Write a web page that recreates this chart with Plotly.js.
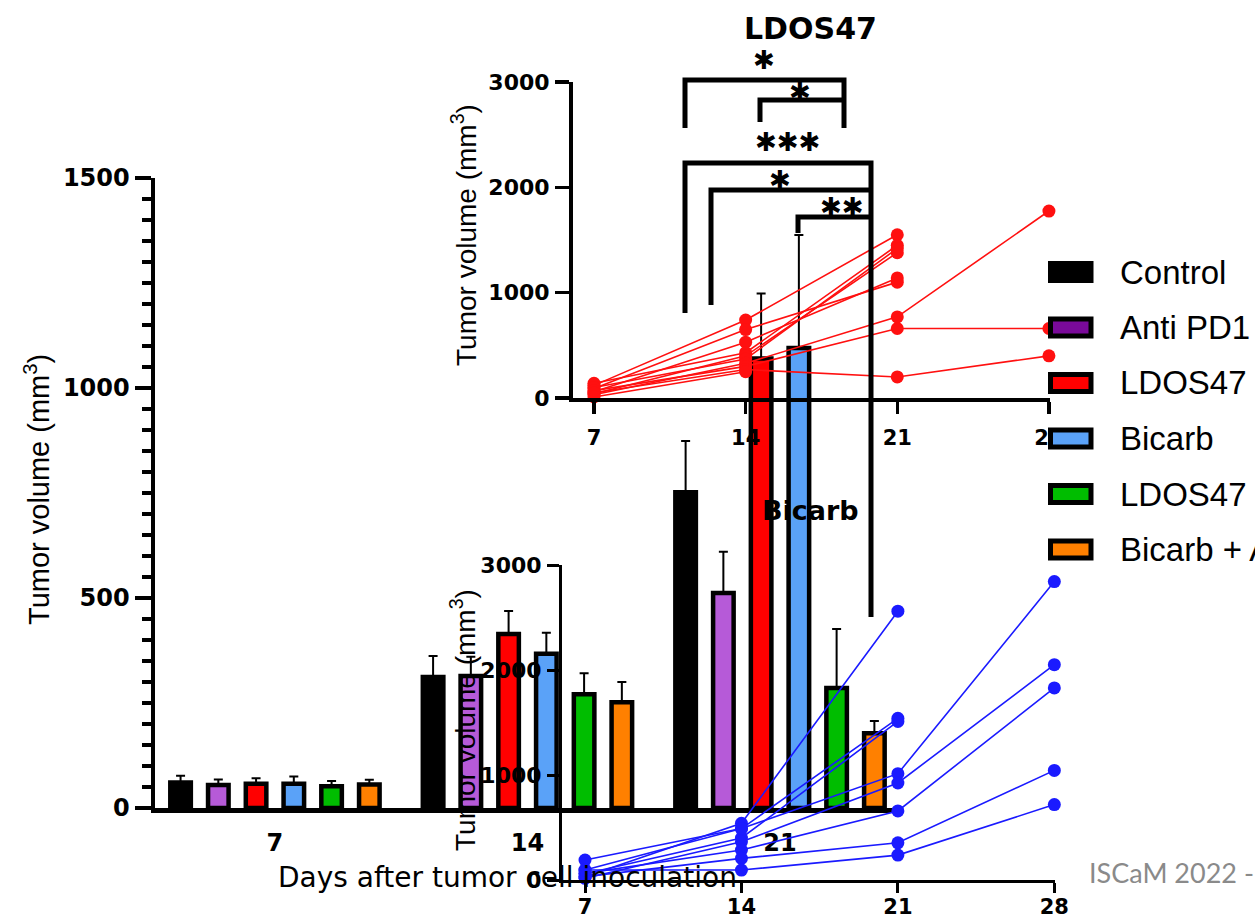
<!DOCTYPE html>
<html>
<head>
<meta charset="utf-8">
<script src="https://cdn.plot.ly/plotly-3.0.1.min.js"></script>
<style>
  html, body { margin: 0; padding: 0; background: #ffffff; }
  #chart { width: 1255px; height: 922px; }
</style>
</head>
<body>
<div id="chart"></div>
<script>
// ---------------- DATA ----------------
const dayLabels = ['7', '14', '21'];
const groupNames = ['Control', 'Anti PD1', 'LDOS47', 'Bicarb', 'LDOS47 + Anti PD1', 'Bicarb + Anti PD1'];

const meanControl = [61, 312, 752];
const meanAntiPD1 = [55, 314, 512];
const meanLDOS47 = [58, 414, 1070];
const meanBicarb = [58, 367, 1095];
const meanLDOS47PD1 = [52, 271, 286];
const meanBicarbPD1 = [56, 252, 178];

const semControl = [16, 50, 122];
const semAntiPD1 = [13, 46, 98];
const semLDOS47 = [13, 55, 155];
const semBicarb = [17, 50, 269];
const semLDOS47PD1 = [12, 50, 140];
const semBicarbPD1 = [11, 48, 29];

const insetDays = [7, 14, 21, 28];
// individual LDOS47 mice (null = no measurement)
const ldosMouse1 = [120, 740, 1550, null];
const ldosMouse2 = [90, 650, 1100, null];
const ldosMouse3 = [60, 530, 1140, null];
const ldosMouse4 = [140, 430, 1450, null];
const ldosMouse5 = [40, 400, 1380, null];
const ldosMouse6 = [100, 370, 1420, null];
const ldosMouse7 = [30, 330, 770, 1775];
const ldosMouse8 = [70, 300, 660, 660];
const ldosMouse9 = [50, 270, 200, 400];
const ldosMouse10 = [10, 250, null, null];
// individual Bicarb mice
const bicMouse1 = [30, 540, 2560, null];
const bicMouse2 = [95, 490, 1540, null];
const bicMouse3 = [60, 400, 1510, null];
const bicMouse4 = [190, 490, 1013, 2842];
const bicMouse5 = [16, 364, 924, 2051];
const bicMouse6 = [63, 285, 658, 1829];
const bicMouse7 = [32, 206, 354, 1044];
const bicMouse8 = [95, 95, 237, 718];

const mainTickVals = [0, 500, 1000, 1500];
const insetTickVals = [0, 1000, 2000, 3000];

// ---------------- BUILD ----------------
const W = 1255, H = 922;
const px = v => v / W;
const py = v => 1 - v / H;

const means = [meanControl, meanAntiPD1, meanLDOS47, meanBicarb, meanLDOS47PD1, meanBicarbPD1];
const sems = [semControl, semAntiPD1, semLDOS47, semBicarb, semLDOS47PD1, semBicarbPD1];
const barColors = ['#000000', '#b65ad8', '#ff0000', '#5aa2f8', '#00bd00', '#ff8000'];
const legendColors = ['#000000', '#7a0a9a', '#ff0000', '#5aa2f8', '#00bd00', '#ff8000'];

const traces = [];
groupNames.forEach((name, i) => {
  traces.push({
    type: 'bar', name: name, x: dayLabels, y: means[i],
    xaxis: 'x', yaxis: 'y',
    marker: { color: barColors[i], line: { color: '#000000', width: 4.5 } },
    error_y: { type: 'data', array: sems[i], arrayminus: sems[i].map(() => 0), symmetric: false,
               color: '#000000', thickness: 2, width: 4.5 },
    cliponaxis: false, showlegend: false, hoverinfo: 'skip'
  });
});

function mouseTrace(vals, color, xa, ya) {
  const xs = [], ys = [];
  vals.forEach((v, k) => { if (v !== null) { xs.push(insetDays[k]); ys.push(v); } });
  return { type: 'scatter', mode: 'lines+markers', x: xs, y: ys, xaxis: xa, yaxis: ya,
           line: { color: color, width: 1.6 }, marker: { color: color, size: 13 },
           cliponaxis: false, showlegend: false, hoverinfo: 'skip' };
}
[ldosMouse1, ldosMouse2, ldosMouse3, ldosMouse4, ldosMouse5, ldosMouse6, ldosMouse7, ldosMouse8, ldosMouse9, ldosMouse10]
  .forEach(m => traces.push(mouseTrace(m, '#ff1010', 'x2', 'y2')));
[bicMouse1, bicMouse2, bicMouse3, bicMouse4, bicMouse5, bicMouse6, bicMouse7, bicMouse8]
  .forEach(m => traces.push(mouseTrace(m, '#1a1aff', 'x3', 'y3')));

const tickFontBig = { family: 'DejaVu Sans', size: 24, color: '#000', weight: 'bold' };
const tickFontXMain = { family: 'DejaVu Sans', size: 24, color: '#000', weight: 'bold' };
const tickFontInset = { family: 'DejaVu Sans', size: 22, color: '#000', weight: 'bold' };
const tickFontInsetX = { family: 'DejaVu Sans', size: 21, color: '#000', weight: 'bold' };

const shapes = [];
// significance brackets (pixel geometry)
const bracketLine = { color: '#000000', width: 5 };
function bracket(x0, x1, yTop, yL, yR) {
  shapes.push({ type: 'path', xref: 'paper', yref: 'paper', layer: 'above',
    path: `M ${px(x0)} ${py(yL)} L ${px(x0)} ${py(yTop)} L ${px(x1)} ${py(yTop)} L ${px(x1)} ${py(yR)}`,
    line: bracketLine });
}
bracket(685, 844, 80, 128, 128);
bracket(760, 844, 100, 122, 100);
bracket(685, 871, 163, 313, 617);
bracket(711, 871, 190, 305, 190);
bracket(798, 871, 217, 233, 217);

const annotations = [];
function star(text, x, y) {
  annotations.push({ xref: 'paper', yref: 'paper', x: px(x), y: py(y), text: text, showarrow: false,
    xanchor: 'center', yanchor: 'middle', font: { family: 'DejaVu Sans', size: 26, color: '#000', weight: 'bold' } });
}
star('✱', 764, 60);
star('✱', 800, 92);
star('✱✱✱', 788, 142);
star('✱', 780, 180);
star('✱✱', 842, 207);

// legend drawn manually
groupNames.forEach((name, i) => {
  const yc = 272 + i * 55.5;
  shapes.push({ type: 'rect', xref: 'paper', yref: 'paper', layer: 'above',
    x0: px(1050.5), x1: px(1091), y0: py(yc - 8.5), y1: py(yc + 8.5),
    fillcolor: legendColors[i], line: { color: '#000000', width: 5 } });
  annotations.push({ xref: 'paper', yref: 'paper', x: px(1118), y: py(yc), text: name, showarrow: false,
    xanchor: 'left', yanchor: 'middle', font: { family: 'Liberation Sans, Arial', size: 33, color: '#000' } });
});

// titles
annotations.push({ xref: 'paper', yref: 'paper', x: px(810), y: py(28), text: 'LDOS47', showarrow: false,
  xanchor: 'center', yanchor: 'middle', font: { family: 'DejaVu Sans', size: 30, color: '#000', weight: 'bold' } });
annotations.push({ xref: 'paper', yref: 'paper', x: px(810), y: py(510), text: 'Bicarb', showarrow: false,
  xanchor: 'center', yanchor: 'middle', font: { family: 'DejaVu Sans', size: 27, color: '#000', weight: 'bold' } });
const yTitleText = 'Tumor volume (mm<sup>3</sup>)';
annotations.push({ xref: 'paper', yref: 'paper', x: px(37), y: py(490), text: yTitleText, showarrow: false,
  textangle: -90, xanchor: 'center', yanchor: 'middle', font: { family: 'Liberation Sans, Arial', size: 29, color: '#000' } });
annotations.push({ xref: 'paper', yref: 'paper', x: px(464), y: py(235), text: yTitleText, showarrow: false,
  textangle: -90, xanchor: 'center', yanchor: 'middle', font: { family: 'Liberation Sans, Arial', size: 28, color: '#000' } });
annotations.push({ xref: 'paper', yref: 'paper', x: px(463), y: py(720), text: yTitleText, showarrow: false,
  textangle: -90, xanchor: 'center', yanchor: 'middle', font: { family: 'Liberation Sans, Arial', size: 28, color: '#000' } });
annotations.push({ xref: 'paper', yref: 'paper', x: px(276), y: py(877), text: 'Days after tumor cell inoculation', showarrow: false,
  xanchor: 'left', yanchor: 'middle', font: { family: 'DejaVu Sans', size: 28, color: '#000' } });
annotations.push({ xref: 'paper', yref: 'paper', x: px(1087), y: py(872), text: 'ISCaM 2022 - ', showarrow: false,
  xanchor: 'left', yanchor: 'middle', font: { family: 'Lato', size: 27, color: '#8a8a8a' } });

const layout = {
  width: W, height: H,
  margin: { l: 0, r: 0, t: 0, b: 0 },
  paper_bgcolor: '#ffffff', plot_bgcolor: 'rgba(0,0,0,0)',
  showlegend: false,
  barmode: 'group', bargap: 0.103, bargroupgap: 0.456,
  xaxis: {
    domain: [px(155), px(893)], anchor: 'y', type: 'category', range: [-0.475, 2.4475],
    showline: true, linewidth: 4.5, linecolor: '#000', ticks: '', showgrid: false, zeroline: false,
    tickfont: tickFontXMain, ticklabelstandoff: 10, fixedrange: true
  },
  yaxis: {
    domain: [py(808), py(178)], anchor: 'x', range: [0, 1500],
    tickvals: mainTickVals, showline: true, linewidth: 4.5, linecolor: '#000',
    ticks: 'outside', ticklen: 16, tickwidth: 4.5, tickcolor: '#000',
    minor: { dtick: 50, ticks: 'outside', ticklen: 9, tickwidth: 4, tickcolor: '#000' },
    showgrid: false, zeroline: false, tickfont: tickFontBig, ticklabelstandoff: 0
  },
  xaxis2: {
    domain: [px(573), px(1050)], anchor: 'y2', range: [6.03, 28.05],
    tickvals: insetDays, showline: true, linewidth: 4, linecolor: '#000',
    ticks: 'outside', ticklen: 12, tickwidth: 3.5, tickcolor: '#000',
    showgrid: false, zeroline: false, tickfont: tickFontInsetX, ticklabelstandoff: 6
  },
  yaxis2: {
    domain: [py(398), py(82)], anchor: 'x2', range: [0, 3000],
    tickvals: insetTickVals, showline: true, linewidth: 4, linecolor: '#000',
    ticks: 'outside', ticklen: 14, tickwidth: 3.5, tickcolor: '#000',
    showgrid: false, zeroline: false, tickfont: tickFontInset, ticklabelstandoff: 1
  },
  xaxis3: {
    domain: [px(562), px(1055)], anchor: 'y3', range: [5.97, 28.03],
    tickvals: insetDays, showline: true, linewidth: 3, linecolor: '#000',
    ticks: 'outside', ticklen: 10, tickwidth: 3, tickcolor: '#000',
    showgrid: false, zeroline: false, tickfont: tickFontInsetX, ticklabelstandoff: -4
  },
  yaxis3: {
    domain: [py(880), py(565)], anchor: 'x3', range: [0, 3000],
    tickvals: insetTickVals, showline: true, linewidth: 3, linecolor: '#000',
    ticks: 'outside', ticklen: 12, tickwidth: 3, tickcolor: '#000',
    showgrid: false, zeroline: false, tickfont: tickFontInset, ticklabelstandoff: 1
  },
  shapes: shapes,
  annotations: annotations
};

Plotly.newPlot('chart', traces, layout, { staticPlot: true, displayModeBar: false });
</script>
</body>
</html>
